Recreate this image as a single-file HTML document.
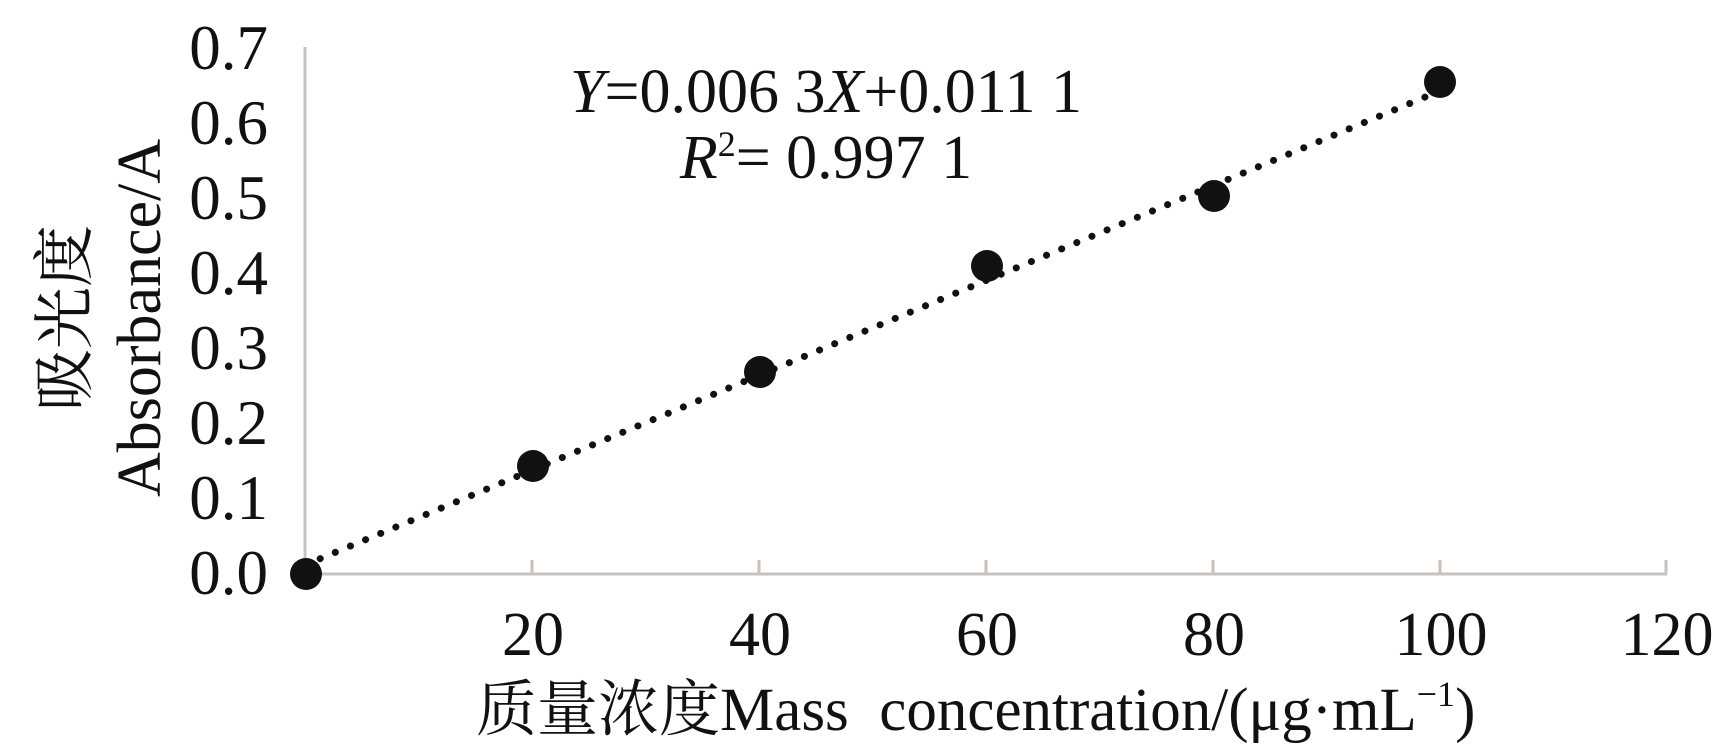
<!DOCTYPE html>
<html><head><meta charset="utf-8"><style>
html,body{margin:0;padding:0;background:#fff;width:1727px;height:754px;overflow:hidden}
text{font-family:"Liberation Serif","Noto Serif CJK SC",serif;fill:#111}
</style></head><body>
<svg width="1727" height="754" viewBox="0 0 1727 754">
<g stroke="#c9c1bc" stroke-width="3" fill="none">
<line x1="305" y1="47" x2="305" y2="574"/>
<line x1="304" y1="574" x2="1667" y2="574"/>
<line x1="532" y1="560" x2="532" y2="574"/>
<line x1="759" y1="560" x2="759" y2="574"/>
<line x1="986" y1="560" x2="986" y2="574"/>
<line x1="1213" y1="560" x2="1213" y2="574"/>
<line x1="1440" y1="560" x2="1440" y2="574"/>
<line x1="1666" y1="560" x2="1666" y2="574"/>
</g>
<g font-size="63" text-anchor="end">
<text x="268" y="594">0.0</text>
<text x="268" y="519">0.1</text>
<text x="268" y="444">0.2</text>
<text x="268" y="369">0.3</text>
<text x="268" y="294">0.4</text>
<text x="268" y="219">0.5</text>
<text x="268" y="144">0.6</text>
<text x="268" y="69">0.7</text>
</g>
<g font-size="62" text-anchor="middle">
<text x="533" y="655">20</text>
<text x="760" y="655">40</text>
<text x="987" y="655">60</text>
<text x="1214" y="655">80</text>
<text x="1441" y="655">100</text>
<text x="1667" y="655">120</text>
</g>
<text x="476" y="730" font-size="61">质量浓度Mass&#160; concentration/(μg·mL<tspan font-size="36" dy="-24">−1</tspan><tspan dy="24">)</tspan></text>
<g transform="translate(160,318) rotate(-90)"><text x="0" y="0" font-size="62" text-anchor="middle">Absorbance/A</text></g>
<g transform="translate(86,318) rotate(-90)"><text x="0" y="0" font-size="62" text-anchor="middle">吸光度</text></g>
<text x="826" y="112" font-size="62" text-anchor="middle"><tspan font-style="italic">Y</tspan>=0.006 3<tspan font-style="italic">X</tspan>+0.011 1</text>
<text x="826" y="178" font-size="62" text-anchor="middle"><tspan font-style="italic">R</tspan><tspan font-size="36" dy="-22">2</tspan><tspan dy="22">= 0.997 1</tspan></text>
<line x1="305" y1="565" x2="1442" y2="90" stroke="#111" stroke-width="7" stroke-linecap="round" stroke-dasharray="0.1 16.3"/>
<g fill="#111">
<circle cx="306" cy="574" r="16"/>
<circle cx="533" cy="466" r="16"/>
<circle cx="760" cy="372" r="16"/>
<circle cx="987" cy="266" r="16"/>
<circle cx="1214" cy="196" r="16"/>
<circle cx="1440" cy="82" r="16"/>
</g>
</svg>
</body></html>
